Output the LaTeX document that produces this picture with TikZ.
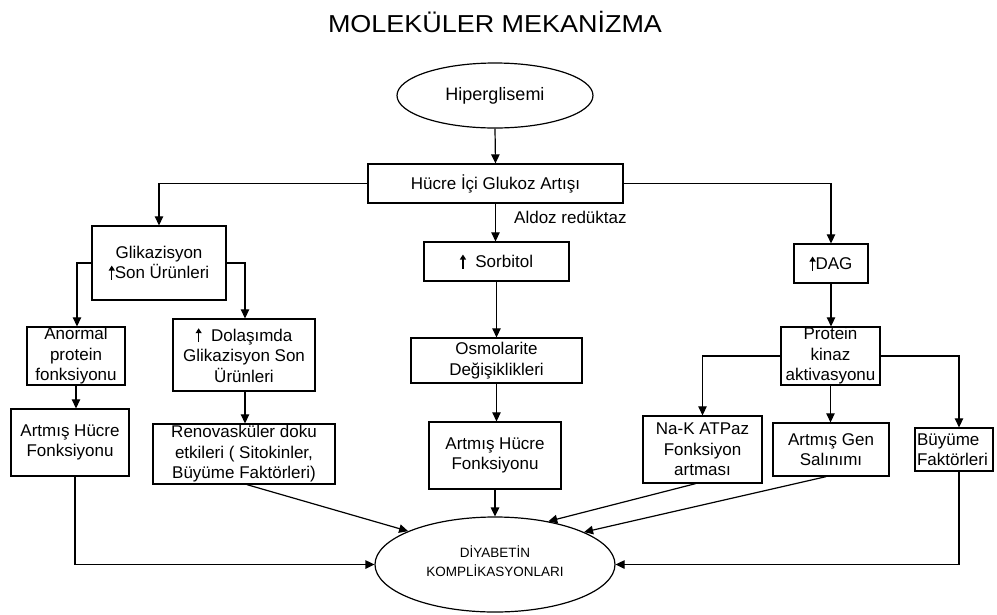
\documentclass[tikz,border=0pt]{standalone}
\usepackage{fontspec}
\setmainfont{Liberation Sans}
\usetikzlibrary{arrows.meta,shapes.geometric}
\newcommand{\uparr}{\tikz[baseline=0pt]\draw[line width=1.3pt,-{Triangle[length=5pt,width=6pt]}] (0pt,-1pt) -- (0pt,13pt);}
\tikzset{
  box/.style={draw, line width=1.3pt, inner sep=0pt, align=center,
    font=\fontsize{17}{20.5}\selectfont},
  oval/.style={draw, ellipse, line width=1.2pt, inner sep=0pt, align=center},
  arr/.style={line width=1.2pt, -{Triangle[length=9pt,width=8.5pt]}},
}
\begin{document}
\begin{tikzpicture}[x=1pt,y=-1pt]
\useasboundingbox (0,0) rectangle (997,614);
\node (title) at (495,22) {\fontsize{24.5}{28}\selectfont\scalebox{1.1}[1]{MOLEKÜLER MEKANİZMA}};
\node[oval, minimum width=196pt, minimum height=65pt, font=\fontsize{18}{21}\selectfont] (hip) at (495,95.5) {Hiperglisemi};
\node[box, minimum width=255pt, minimum height=39pt] (huc) at (495.5,183.5) {Hücre İçi Glukoz Artışı};
\node[box, minimum width=134pt, minimum height=74pt] (glik) at (159,263) {Glikazisyon\\\uparr Son Ürünleri};
\node[box, minimum width=145pt, minimum height=39pt] (sorb) at (496.5,261.5) {\uparr\ \ Sorbitol};
\node[box, minimum width=74pt, minimum height=39pt] (dag) at (831,263.5) {\uparr DAG};
\node[anchor=west, font=\fontsize{17}{20}\selectfont, inner sep=0pt] (ald) at (514,217) {Aldoz redüktaz};
\node[box, minimum width=98pt, minimum height=58pt] (anorm) at (76,356) {Anormal\\protein\\fonksiyonu};
\node[box, minimum width=142pt, minimum height=72pt] (dol) at (244,355) {\uparr\ \ Dolaşımda\\Glikazisyon Son\\Ürünleri};
\node[box, minimum width=171pt, minimum height=45pt] (osm) at (496.5,360.5) {Osmolarite\\Değişiklikleri};
\node[box, minimum width=99pt, minimum height=58pt] (pk) at (830.5,356) {Protein\\kinaz\\aktivasyonu};
\node[box, minimum width=118pt, minimum height=67pt] (art1) at (70,442.5) {Artmış Hücre\\Fonksiyonu};
\node[box, minimum width=182pt, minimum height=60pt] (ren) at (244,454) {Renovasküler doku\\etkileri ( Sitokinler,\\Büyüme Faktörleri)};
\node[box, minimum width=132pt, minimum height=67pt] (art2) at (495,455.5) {Artmış Hücre\\Fonksiyonu};
\node[box, minimum width=119pt, minimum height=67pt] (nak) at (702.5,449.5) {Na-K ATPaz\\Fonksiyon\\artması};
\node[box, minimum width=116pt, minimum height=53pt] (gen) at (831,449.5) {Artmış Gen\\Salınımı};
\node[box, minimum height=43pt, text width=74pt, inner xsep=2pt, align=left] (buy) at (954,449.5) {Büyüme\\Faktörleri};
\node[oval, minimum width=240pt, minimum height=95pt, font=\fontsize{13.5}{19}\selectfont] (dia) at (495,564.5) {DİYABETİN\\KOMPLİKASYONLARI\rule[-7pt]{0pt}{1pt}};

\draw[arr] (hip.south) -- (huc.north);
\draw[arr] (huc.west) -| (glik.north);
\draw[arr] (huc.east) -| (dag.north);
\draw[arr] (huc.south) -- (huc.south |- sorb.north);
\draw[arr] (glik.west) -| ([xshift=1pt]anorm.north);
\draw[arr] (glik.east) -| ([xshift=1pt]dol.north);
\draw[arr] (anorm.south) -- (anorm.south |- art1.north);
\draw[arr] ([xshift=1pt]dol.south) -- ([xshift=1pt]ren.north);
\draw[arr] (sorb.south) -- (sorb.south |- osm.north);
\draw[arr] (osm.south) -- (osm.south |- art2.north);
\draw[arr] (dag.south) -- (dag.south |- pk.north);
\draw[arr] (pk.west) -| (nak.north);
\draw[arr] (pk.south) -- (pk.south |- gen.north);
\draw[arr] (pk.east) -| ([xshift=5pt]buy.north);
\draw[arr] ([xshift=5pt]art1.south) |- (dia.west);
\draw[arr] ([xshift=3pt]ren.south) -- (dia.159.7);
\draw[arr] (art2.south) -- (dia.north);
\draw[arr] ([xshift=-7pt]nak.south) -- (dia.39.5);
\draw[arr] ([xshift=-5pt]gen.south) -- (dia.20.5);
\draw[arr] ([xshift=5pt]buy.south) |- (dia.east);
\end{tikzpicture}
\end{document}
